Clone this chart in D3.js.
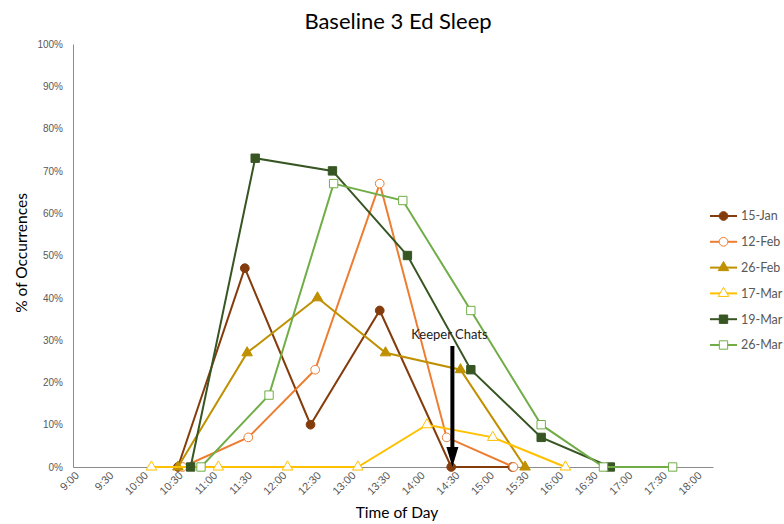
<!DOCTYPE html>
<html>
<head>
<meta charset="utf-8">
<script src="https://cdn.jsdelivr.net/npm/d3@7"></script>
<style>
  body { margin: 0; background: #fff; }
  svg { font-family: Lato, "Open Sans", sans-serif; }
  .tick text { fill: #595959; font-size: 11px; }
  .axis path { stroke: #8c8c8c; }
</style>
</head>
<body>
<svg id="chart" width="784" height="524"></svg>
<script>
// series names + colours
const seriesNames = ["15-Jan", "12-Feb", "26-Feb", "17-Mar", "19-Mar", "26-Mar"];
const seriesColors = ["#843c0c", "#ed7d31", "#bf9000", "#ffc000", "#375623", "#70ad47"];
const seriesMarkers = ["circle", "circle", "triangle", "triangle", "square", "square"];
const seriesFilled = [true, false, true, false, true, false];

// observation times (hh:mm) and values (fraction of occurrences)
const jan15Times = ["10:31", "11:29", "12:26", "13:26", "14:28", "15:21"];
const jan15Vals = [0, 0.47, 0.10, 0.37, 0, 0];
const feb12Times = ["10:35", "11:32", "12:30", "13:26", "14:24", "15:22"];
const feb12Vals = [0, 0.07, 0.23, 0.67, 0.07, 0];
const feb26Times = ["10:31", "11:31", "12:32", "13:31", "14:36", "15:32"];
const feb26Vals = [0, 0.27, 0.40, 0.27, 0.23, 0];
const mar17Times = ["10:08", "11:06", "12:06", "13:07", "14:07", "15:04", "16:07"];
const mar17Vals = [0, 0, 0, 0, 0.10, 0.07, 0];
const mar19Times = ["10:42", "11:38", "12:45", "13:50", "14:45", "15:46", "16:46"];
const mar19Vals = [0, 0.73, 0.70, 0.50, 0.23, 0.07, 0];
const mar26Times = ["10:51", "11:50", "12:46", "13:46", "14:45", "15:46", "16:40", "17:40"];
const mar26Vals = [0, 0.17, 0.67, 0.63, 0.37, 0.10, 0, 0];

const allTimes = [jan15Times, feb12Times, feb26Times, mar17Times, mar19Times, mar26Times];
const allVals = [jan15Vals, feb12Vals, feb26Vals, mar17Vals, mar19Vals, mar26Vals];

const yTicks = [0, 0.1, 0.2, 0.3, 0.4, 0.5, 0.6, 0.7, 0.8, 0.9, 1.0];
const annotationTime = "14:29";

const parseTime = d3.timeParse("%H:%M");

const svg = d3.select("#chart");

const x = d3.scaleTime()
  .domain([parseTime("09:00"), parseTime("18:15")])
  .range([73, 713]);
const y = d3.scaleLinear().domain([0, 1]).range([467, 44]);

// title
svg.append("text")
  .attr("x", 398).attr("y", 29)
  .attr("text-anchor", "middle")
  .style("font-size", "22px")
  .attr("fill", "#000")
  .text("Baseline 3 Ed Sleep");

// y axis
const yAxis = d3.axisLeft(y).tickValues(yTicks).tickFormat(d3.format(".0%")).tickSize(0).tickPadding(10);
svg.append("g")
  .attr("class", "axis")
  .attr("transform", "translate(73,0)")
  .call(yAxis)
  .selectAll("text").style("font-size", "10px");

// x axis
const xTickVals = d3.timeMinute.every(30).range(parseTime("09:00"), parseTime("18:01"));
const xAxis = d3.axisBottom(x).tickValues(xTickVals).tickFormat(d3.timeFormat("%-H:%M")).tickSize(0);
svg.append("g")
  .attr("class", "axis")
  .attr("transform", "translate(0,467)")
  .call(xAxis)
  .selectAll("text")
  .attr("text-anchor", "end")
  .attr("x", -2)
  .attr("y", 7)
  .attr("dy", "0.35em")
  .attr("transform", "rotate(-45)");

// axis titles
svg.append("text")
  .attr("transform", "translate(27,253) rotate(-90)")
  .attr("text-anchor", "middle")
  .style("font-size", "15.5px")
  .text("% of Occurrences");
svg.append("text")
  .attr("x", 397).attr("y", 518)
  .attr("text-anchor", "middle")
  .style("font-size", "15.5px")
  .text("Time of Day");

const symbolFor = m => m === "circle" ? d3.symbolCircle : m === "square" ? d3.symbolSquare : d3.symbolTriangle;
const symbolSize = m => m === "circle" ? 60 : m === "square" ? 70 : 48;

const line = d3.line().x(d => x(d.t)).y(d => y(d.v));

const series = seriesNames.map((name, i) => ({
  name,
  color: seriesColors[i],
  marker: seriesMarkers[i],
  filled: seriesFilled[i],
  values: allTimes[i].map((t, j) => ({ t: parseTime(t), v: allVals[i][j] }))
}));

series.forEach(s => {
  const g = svg.append("g");
  g.append("path")
    .attr("d", line(s.values))
    .attr("fill", "none")
    .attr("stroke", s.color)
    .attr("stroke-width", 2);
  g.selectAll("path.marker")
    .data(s.values)
    .join("path")
    .attr("class", "marker")
    .attr("transform", d => `translate(${x(d.t)},${y(d.v)})`)
    .attr("d", d3.symbol(symbolFor(s.marker), symbolSize(s.marker)))
    .attr("fill", s.filled ? s.color : "#fff")
    .attr("stroke", s.color)
    .attr("stroke-width", 1);
});

// annotation
const ax = x(parseTime(annotationTime));
svg.append("text")
  .attr("x", ax - 3).attr("y", 339)
  .attr("text-anchor", "middle")
  .style("font-size", "13px")
  .attr("fill", "#222")
  .text("Keeper Chats");
svg.append("line")
  .attr("x1", ax).attr("x2", ax)
  .attr("y1", 346).attr("y2", 450)
  .attr("stroke", "#000").attr("stroke-width", 4);
svg.append("path")
  .attr("d", `M${ax - 6},447 L${ax + 6},447 L${ax},467 Z`)
  .attr("fill", "#000");

// legend
const legend = svg.append("g").attr("transform", "translate(710,216)");
series.forEach((s, i) => {
  const row = legend.append("g").attr("transform", `translate(0,${i * 25.8})`);
  row.append("line")
    .attr("x1", 0).attr("x2", 27)
    .attr("stroke", s.color).attr("stroke-width", 2);
  row.append("path")
    .attr("transform", "translate(13.5,0)")
    .attr("d", d3.symbol(symbolFor(s.marker), symbolSize(s.marker))())
    .attr("fill", s.filled ? s.color : "#fff")
    .attr("stroke", s.color);
  row.append("text")
    .attr("x", 31).attr("y", 0).attr("dy", "0.35em")
    .style("font-size", "12.5px")
    .attr("fill", "#595959")
    .text(s.name);
});
</script>
</body>
</html>
